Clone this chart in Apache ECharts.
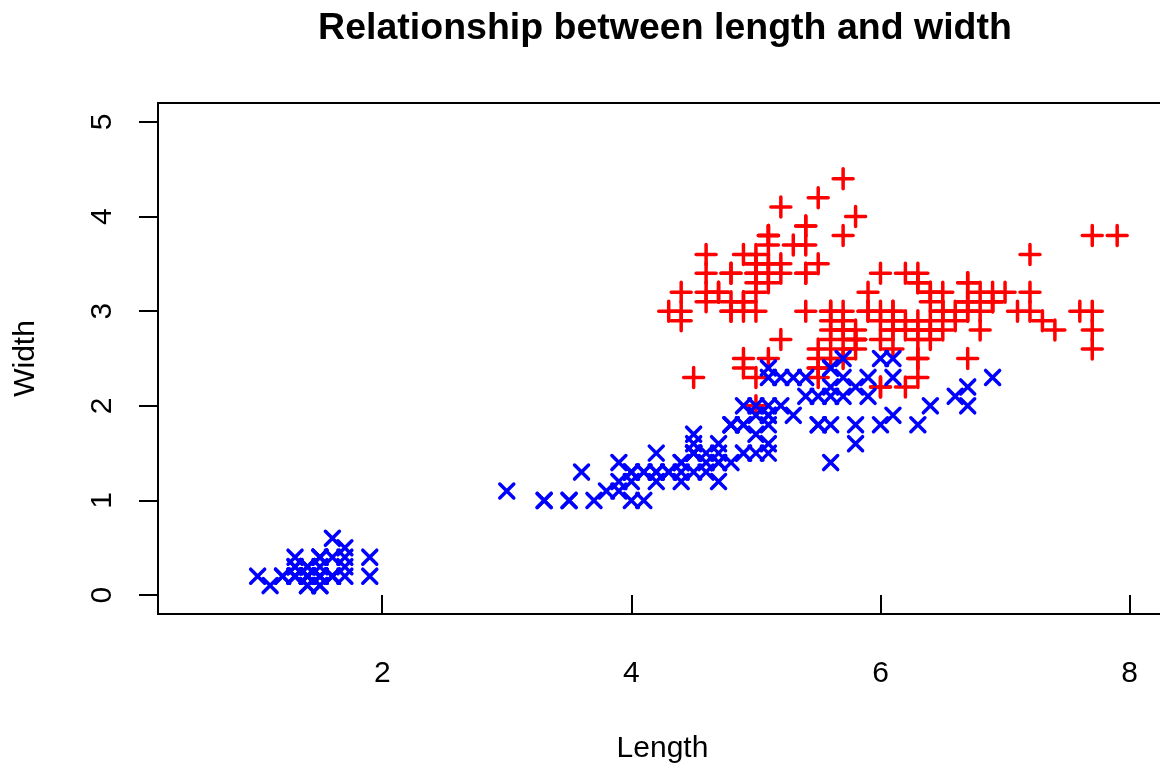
<!DOCTYPE html>
<html>
<head>
<meta charset="utf-8">
<script src="https://cdn.jsdelivr.net/npm/echarts@6/dist/echarts.min.js"></script>
<style>
  html, body { margin: 0; padding: 0; background: #fff; }
  #main { width: 1160px; height: 766px; }
</style>
</head>
<body>
<div id="main"></div>
<script>
const sepalLength = [5.1,4.9,4.7,4.6,5.0,5.4,4.6,5.0,4.4,4.9,5.4,4.8,4.8,4.3,5.8,5.7,5.4,5.1,5.7,5.1,5.4,5.1,4.6,5.1,4.8,5.0,5.0,5.2,5.2,4.7,4.8,5.4,5.2,5.5,4.9,5.0,5.5,4.9,4.4,5.1,5.0,4.5,4.4,5.0,5.1,4.8,5.1,4.6,5.3,5.0,
  7.0,6.4,6.9,5.5,6.5,5.7,6.3,4.9,6.6,5.2,5.0,5.9,6.0,6.1,5.6,6.7,5.6,5.8,6.2,5.6,5.9,6.1,6.3,6.1,6.4,6.6,6.8,6.7,6.0,5.7,5.5,5.5,5.8,6.0,5.4,6.0,6.7,6.3,5.6,5.5,5.5,6.1,5.8,5.0,5.6,5.7,5.7,6.2,5.1,5.7,
  6.3,5.8,7.1,6.3,6.5,7.6,4.9,7.3,6.7,7.2,6.5,6.4,6.8,5.7,5.8,6.4,6.5,7.7,7.7,6.0,6.9,5.6,7.7,6.3,6.7,7.2,6.2,6.1,6.4,7.2,7.4,7.9,6.4,6.3,6.1,7.7,6.3,6.4,6.0,6.9,6.7,6.9,5.8,6.8,6.7,6.7,6.3,6.5,6.2,5.9];
const sepalWidth = [3.5,3.0,3.2,3.1,3.6,3.9,3.4,3.4,2.9,3.1,3.7,3.4,3.0,3.0,4.0,4.4,3.9,3.5,3.8,3.8,3.4,3.7,3.6,3.3,3.4,3.0,3.4,3.5,3.4,3.2,3.1,3.4,4.1,4.2,3.1,3.2,3.5,3.6,3.0,3.4,3.5,2.3,3.2,3.5,3.8,3.0,3.8,3.2,3.7,3.3,
  3.2,3.2,3.1,2.3,2.8,2.8,3.3,2.4,2.9,2.7,2.0,3.0,2.2,2.9,2.9,3.1,3.0,2.7,2.2,2.5,3.2,2.8,2.5,2.8,2.9,3.0,2.8,3.0,2.9,2.6,2.4,2.4,2.7,2.7,3.0,3.4,3.1,2.3,3.0,2.5,2.6,3.0,2.6,2.3,2.7,3.0,2.9,2.9,2.5,2.8,
  3.3,2.7,3.0,2.9,3.0,3.0,2.5,2.9,2.5,3.6,3.2,2.7,3.0,2.5,2.8,3.2,3.0,3.8,2.6,2.2,3.2,2.8,2.8,2.7,3.3,3.2,2.8,3.0,2.8,3.0,2.8,3.8,2.8,2.8,2.6,3.0,3.4,3.1,3.0,3.1,3.1,3.1,2.7,3.2,3.3,3.0,2.5,3.0,3.4,3.0];
const petalLength = [1.4,1.4,1.3,1.5,1.4,1.7,1.4,1.5,1.4,1.5,1.5,1.6,1.4,1.1,1.2,1.5,1.3,1.4,1.7,1.5,1.7,1.5,1.0,1.7,1.9,1.6,1.6,1.5,1.4,1.6,1.6,1.5,1.5,1.4,1.5,1.2,1.3,1.4,1.3,1.5,1.3,1.3,1.3,1.6,1.9,1.4,1.6,1.4,1.5,1.4,
  4.7,4.5,4.9,4.0,4.6,4.5,4.7,3.3,4.6,3.9,3.5,4.2,4.0,4.7,3.6,4.4,4.5,4.1,4.5,3.9,4.8,4.0,4.9,4.7,4.3,4.4,4.8,5.0,4.5,3.5,3.8,3.7,3.9,5.1,4.5,4.5,4.7,4.4,4.1,4.0,4.4,4.6,4.0,3.3,4.2,4.2,4.2,4.3,3.0,4.1,
  6.0,5.1,5.9,5.6,5.8,6.6,4.5,6.3,5.8,6.1,5.1,5.3,5.5,5.0,5.1,5.3,5.5,6.7,6.9,5.0,5.7,4.9,6.7,4.9,5.7,6.0,4.8,4.9,5.6,5.8,6.1,6.4,5.6,5.1,5.6,6.1,5.6,5.5,4.8,5.4,5.6,5.1,5.1,5.9,5.7,5.2,5.0,5.2,5.4,5.1];
const petalWidth = [0.2,0.2,0.2,0.2,0.2,0.4,0.3,0.2,0.2,0.1,0.2,0.2,0.1,0.1,0.2,0.4,0.4,0.3,0.3,0.3,0.2,0.4,0.2,0.5,0.2,0.2,0.4,0.2,0.2,0.2,0.2,0.4,0.1,0.2,0.2,0.2,0.2,0.1,0.2,0.2,0.3,0.3,0.2,0.6,0.4,0.3,0.2,0.2,0.2,0.2,
  1.4,1.5,1.5,1.3,1.5,1.3,1.6,1.0,1.3,1.4,1.0,1.5,1.0,1.4,1.3,1.4,1.5,1.0,1.5,1.1,1.8,1.3,1.5,1.2,1.3,1.4,1.4,1.7,1.5,1.0,1.1,1.0,1.2,1.6,1.5,1.6,1.5,1.3,1.3,1.3,1.2,1.4,1.2,1.0,1.3,1.2,1.3,1.3,1.1,1.3,
  2.5,1.9,2.1,1.8,2.2,2.1,1.7,1.8,1.8,2.5,2.0,1.9,2.1,2.0,2.4,2.3,1.8,2.2,2.3,1.5,2.3,2.0,2.0,1.8,2.1,1.8,1.8,1.8,2.1,1.6,1.9,2.0,2.2,1.5,1.4,2.3,2.4,1.8,1.8,2.1,2.4,2.3,1.9,2.3,2.5,2.3,1.9,2.0,2.3,1.8];

const xTicks = [2, 4, 6, 8];
const yTicks = [0, 1, 2, 3, 4, 5];

const sepalPts = sepalLength.map((v, i) => [v, sepalWidth[i]]);
const petalPts = petalLength.map((v, i) => [v, petalWidth[i]]);

const chart = echarts.init(document.getElementById("main"));
const font = "Liberation Sans";

chart.setOption({
  animation: false,
  backgroundColor: "#fff",
  title: {
    text: "Relationship between length and width",
    left: 660,
    top: 5,
    textAlign: "center",
    textStyle: { fontFamily: font, fontSize: 37.5, fontWeight: "bold", color: "#000" },
  },
  grid: {
    left: 158,
    top: 103,
    width: 1009,
    height: 511,
    outerBoundsMode: "none",
    show: true,
    borderColor: "#000",
    borderWidth: 2,
    backgroundColor: "transparent",
  },
  xAxis: {
    type: "value",
    min: 0.2,
    max: 8.3,
    name: "Length",
    nameLocation: "middle",
    nameGap: 120,
    nameTextStyle: { fontFamily: font, fontSize: 30, color: "#000" },
    axisLine: { show: false },
    splitLine: { show: false },
    axisTick: { show: true, length: 19, customValues: xTicks, lineStyle: { color: "#000", width: 2 } },
    axisLabel: { customValues: xTicks, margin: 45, fontFamily: font, fontSize: 30, color: "#000" },
  },
  yAxis: {
    type: "value",
    min: -0.2,
    max: 5.2,
    name: "Width",
    nameLocation: "middle",
    nameGap: 117,
    nameTextStyle: { fontFamily: font, fontSize: 30, color: "#000" },
    axisLine: { show: false },
    splitLine: { show: false },
    axisTick: { show: true, length: 19, customValues: yTicks, lineStyle: { color: "#000", width: 2 } },
    axisLabel: { customValues: yTicks, rotate: 90, margin: 40, fontFamily: font, fontSize: 30, color: "#000" },
  },
  series: [
    {
      name: "Sepal",
      type: "scatter",
      data: sepalPts,
      symbol: "path://M0,10L20,10M10,0L10,20",
      symbolSize: 20,
      itemStyle: { color: "#ff0000", borderColor: "#ff0000", borderWidth: 3.5, borderCap: "round", opacity: 1 },
    },
    {
      name: "Petal",
      type: "scatter",
      data: petalPts,
      symbol: "path://M0,0L14,14M14,0L0,14",
      symbolSize: 14,
      itemStyle: { color: "#0000ff", borderColor: "#0000ff", borderWidth: 3.5, borderCap: "round", opacity: 1 },
    },
  ],
});
</script>
</body>
</html>
